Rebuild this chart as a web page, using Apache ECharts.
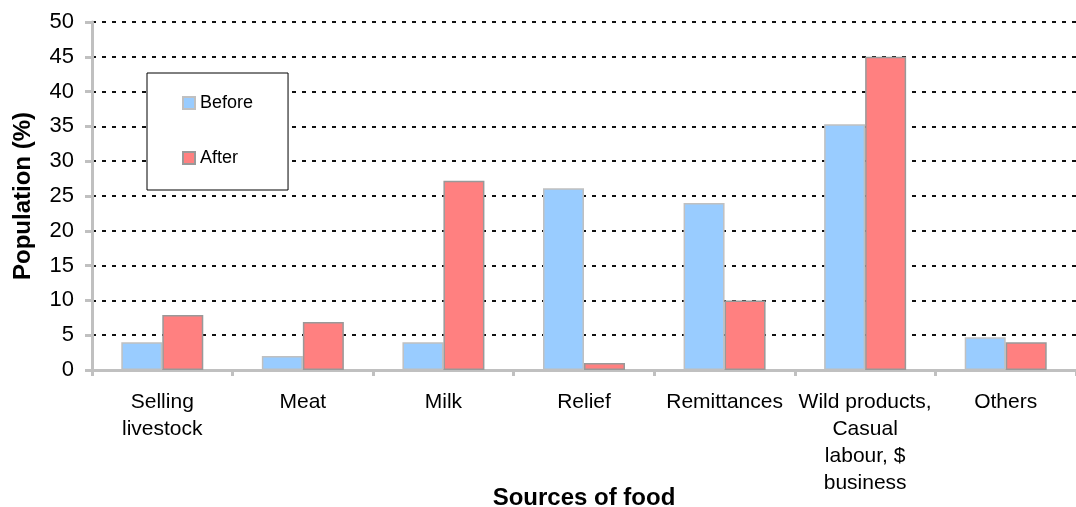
<!DOCTYPE html>
<html>
<head>
<meta charset="utf-8">
<script src="https://cdn.jsdelivr.net/npm/echarts@6/dist/echarts.min.js"></script>
<style>
html,body{margin:0;padding:0;background:#fff;}
#chart{width:1076px;height:507px;}
</style>
</head>
<body>
<div id="chart"></div>
<script>
const categories = ["Selling\nlivestock", "Meat", "Milk", "Relief", "Remittances", "Wild products,\nCasual\nlabour, $\nbusiness", "Others"];
const beforeValues = [4, 2, 4, 26.1, 24, 35.3, 4.7];
const afterValues = [7.9, 6.9, 27.2, 1, 10, 45, 4];
const yTicks = { min: 0, max: 50, interval: 5 };
const FONT = '"Liberation Sans", Arial, sans-serif';

const chart = echarts.init(document.getElementById('chart'), null, { renderer: 'canvas' });
chart.setOption({
  animation: false,
  backgroundColor: '#fff',
  textStyle: { fontFamily: FONT, color: '#000' },
  grid: { left: 92, top: 22, bottom: 137, right: -6, containLabel: false },
  legend: {
    orient: 'vertical',
    left: 147, top: 73,
    padding: [21, 35, 23, 35],
    itemGap: 37,
    itemWidth: 12, itemHeight: 12,
    icon: 'rect',
    borderColor: '#000', borderWidth: 1, backgroundColor: '#fff',
    textStyle: { fontFamily: FONT, fontSize: 18, lineHeight: 18, color: '#000' },
    data: ['Before', 'After']
  },
  graphic: [{
    type: 'text', x: 584, y: 498,
    style: { text: 'Sources of food', font: 'bold 24px ' + FONT, fill: '#000', textAlign: 'center', textVerticalAlign: 'middle' }
  }],
  xAxis: {
    type: 'category',
    data: categories,
    axisLine: { lineStyle: { color: '#c0c0c0', width: 3 } },
    axisTick: { show: true, length: 6, lineStyle: { color: '#c0c0c0', width: 3 } },
    axisLabel: { fontFamily: FONT, fontSize: 21, lineHeight: 27, color: '#000', margin: 19, interval: 0 },
    splitLine: { show: false }
  },
  yAxis: {
    type: 'value',
    min: yTicks.min, max: yTicks.max, interval: yTicks.interval,
    name: 'Population (%)',
    nameLocation: 'middle',
    nameGap: 57,
    nameTextStyle: { fontFamily: FONT, fontSize: 24, fontWeight: 'bold', color: '#000' },
    axisLine: { show: true, lineStyle: { color: '#c0c0c0', width: 3 } },
    axisTick: { show: true, length: 7, lineStyle: { color: '#c0c0c0', width: 3 } },
    axisLabel: { fontFamily: FONT, fontSize: 22, color: '#000', margin: 18 },
    splitLine: { show: true, lineStyle: { color: '#111', width: 2, type: [4, 6] } }
  },
  series: [
    {
      name: 'Before', type: 'bar', data: beforeValues,
      barWidth: 41, barGap: '0%',
      itemStyle: { color: '#99CCFF', borderColor: '#c0c0c0', borderWidth: 1.5 }
    },
    {
      name: 'After', type: 'bar', data: afterValues,
      barWidth: 41, barGap: '0%',
      itemStyle: { color: '#FF8080', borderColor: '#999999', borderWidth: 1.5 }
    }
  ]
});
</script>
</body>
</html>
